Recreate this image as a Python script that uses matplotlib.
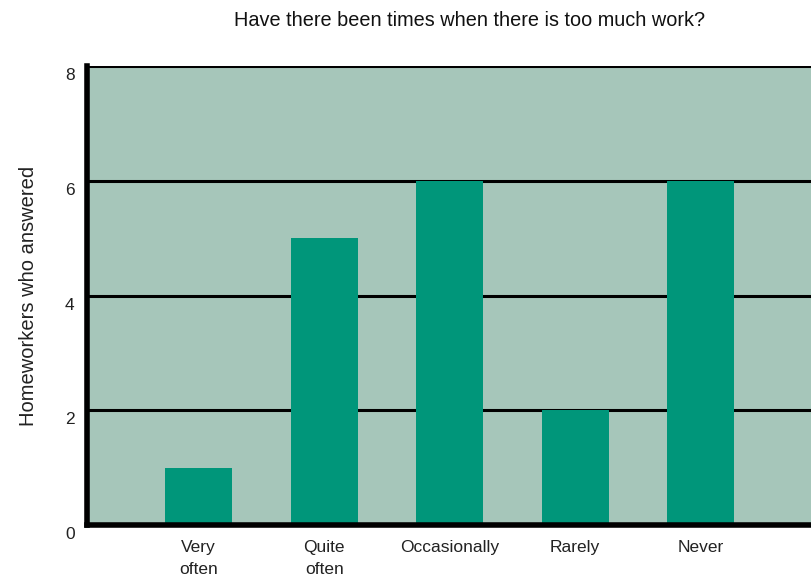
import matplotlib.pyplot as plt
from matplotlib.transforms import ScaledTranslation

categories = ['Very\noften', 'Quite\noften', 'Occasionally', 'Rarely', 'Never']
counts = [1, 5, 6, 2, 6]
y_ticks = [0, 2, 4, 6, 8]

plt.rcParams['font.family'] = ['Liberation Sans', 'DejaVu Sans']

fig = plt.figure(figsize=(8.11, 5.76), dpi=100)
ax = fig.add_axes([87 / 811, 51 / 576, 724 / 811, 459 / 576])
ax.set_facecolor('#a6c6ba')

x = list(range(len(categories)))
ax.bar(x, counts, width=0.534, color='#00967a', zorder=3)

ax.set_xlim(-0.89, 4.88)
ax.set_ylim(0, 8)
ax.set_yticks(y_ticks)
ax.set_yticklabels([str(t) for t in y_ticks], fontsize=12.5, color='#222222')
ax.set_xticks(x)
ax.set_xticklabels(categories, fontsize=12.5, color='#222222', linespacing=1.55)
ax.tick_params(axis='y', length=0, pad=9)
ax.tick_params(axis='x', length=0, pad=11)

# nudge the y labels a little below their gridlines
shift = ScaledTranslation(0, -8 / 100, fig.dpi_scale_trans)
for lbl in ax.get_yticklabels():
    lbl.set_transform(lbl.get_transform() + shift)

for t in y_ticks[1:]:
    ax.axhline(t, color='black', linewidth=2.2, zorder=2)

for side in ['top', 'right']:
    ax.spines[side].set_visible(False)
ax.spines['left'].set_linewidth(4)
ax.spines['bottom'].set_linewidth(4)
ax.spines['left'].set_zorder(4)
ax.spines['bottom'].set_zorder(4)

ax.set_ylabel('Homeworkers who answered', fontsize=14.5, color='#222222', labelpad=19)
fig.text(470 / 811, 1 - 20 / 576, 'Have there been times when there is too much work?',
         ha='center', va='center', fontsize=14.3, color='#111111')

fig.savefig('out.png', dpi=100)
